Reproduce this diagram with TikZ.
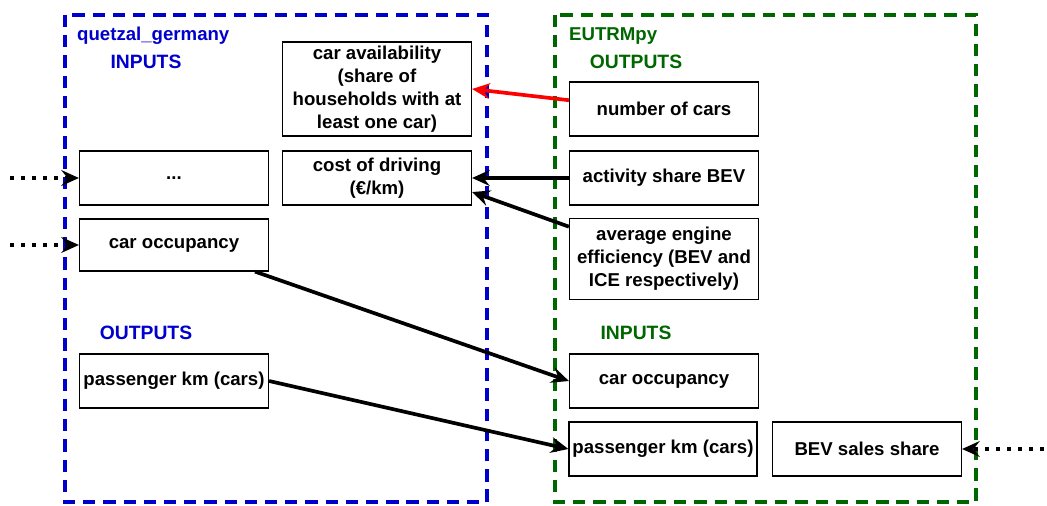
\documentclass[tikz,border=0pt]{standalone}
\usepackage{fontspec}
\setmainfont{Liberation Sans}
\usetikzlibrary{arrows.meta}
\definecolor{qblue}{RGB}{0,0,204}
\definecolor{egreen}{RGB}{0,102,0}
\definecolor{lred}{RGB}{255,0,0}
\begin{document}
\begin{tikzpicture}[x=0.02cm,y=-0.02cm,
    var/.style={draw, line width=0.7pt, minimum width=3.78cm, minimum height=1.08cm,
      align=center, inner sep=1pt, font=\fontsize{10.6}{13}\selectfont\bfseries},
    model/.style={dash pattern=on 7pt off 4.5pt, line width=2.2pt},
    head/.style={font=\fontsize{11}{13}\selectfont\bfseries},
    link/.style={-{Stealth[length=10pt,width=9pt,inset=3.5pt]}, line width=2.1pt},
    feed/.style={link, line cap=butt, dash pattern=on 2.3pt off 4pt}]
    \useasboundingbox (0,0) rectangle (1047,506);

    % Modellgrenzen
    \draw[model, qblue] (65,15) rectangle (487,502);
    \draw[model, egreen] (555,15) rectangle (976,502);

    % Titel und Abschnitte
    \node[anchor=west, text=qblue, font=\fontsize{10.6}{13}\selectfont\bfseries] (qname) at (71,36) {quetzal\_germany};
    \node[head, text=qblue] (qin) at (146,62) {INPUTS};
    \node[head, text=qblue] (qout) at (146,333) {OUTPUTS};
    \node[anchor=west, text=egreen, font=\fontsize{10.6}{13}\selectfont\bfseries] (ename) at (563,36) {EUTRMpy};
    \node[head, text=egreen] (eout) at (636,62) {OUTPUTS};
    \node[head, text=egreen] (ein) at (636,333) {INPUTS};

    % quetzal_germany
    \node[var, minimum height=1.88cm] (avail) at (377,89) {car availability\\(share of\\households with at\\least one car)};
    \node[var] (dots) at (174,178) {...};
    \node[var] (cost) at (377,178) {cost of driving\\(€/km)};
    \node[var, minimum height=1.04cm] (occL) at (174,245) {car occupancy};
    \node[var] (pkmL) at (174,381) {passenger km (cars)};

    % EUTRMpy
    \node[var] (ncars) at (664,109) {number of cars};
    \node[var] (share) at (664,178) {activity share BEV};
    \node[var, minimum height=1.62cm] (effic) at (664,259) {average engine\\efficiency (BEV and\\ICE respectively)};
    \node[var] (occR) at (664,381) {car occupancy};
    \node[var, minimum width=3.76cm] (pkmR) at (663,449) {passenger km (cars)};
    \node[var] (sales) at (867,449) {BEV sales share};

    % Kopplungen
    \draw[link, lred] ([yshift=5pt]ncars.west) -- (avail.east);
    \draw[link] (share.west) -- (cost.east);
    \draw[link] ([yshift=-5pt]effic.north west) -- ([yshift=-8pt]cost.east);
    \draw[link] ([xshift=-8pt]occL.south east) -- (occR.west);
    \draw[link] (pkmL.east) -- (pkmR.west);

    % externe Eingaben
    \coordinate (ext1) at (10,178);
    \coordinate (ext2) at (10,245);
    \coordinate (ext3) at (1044,449);
    \draw[feed] (ext1) -- (dots.west);
    \draw[feed] (ext2) -- (occL.west);
    \draw[feed] (ext3) -- (sales.east);
\end{tikzpicture}
\end{document}
